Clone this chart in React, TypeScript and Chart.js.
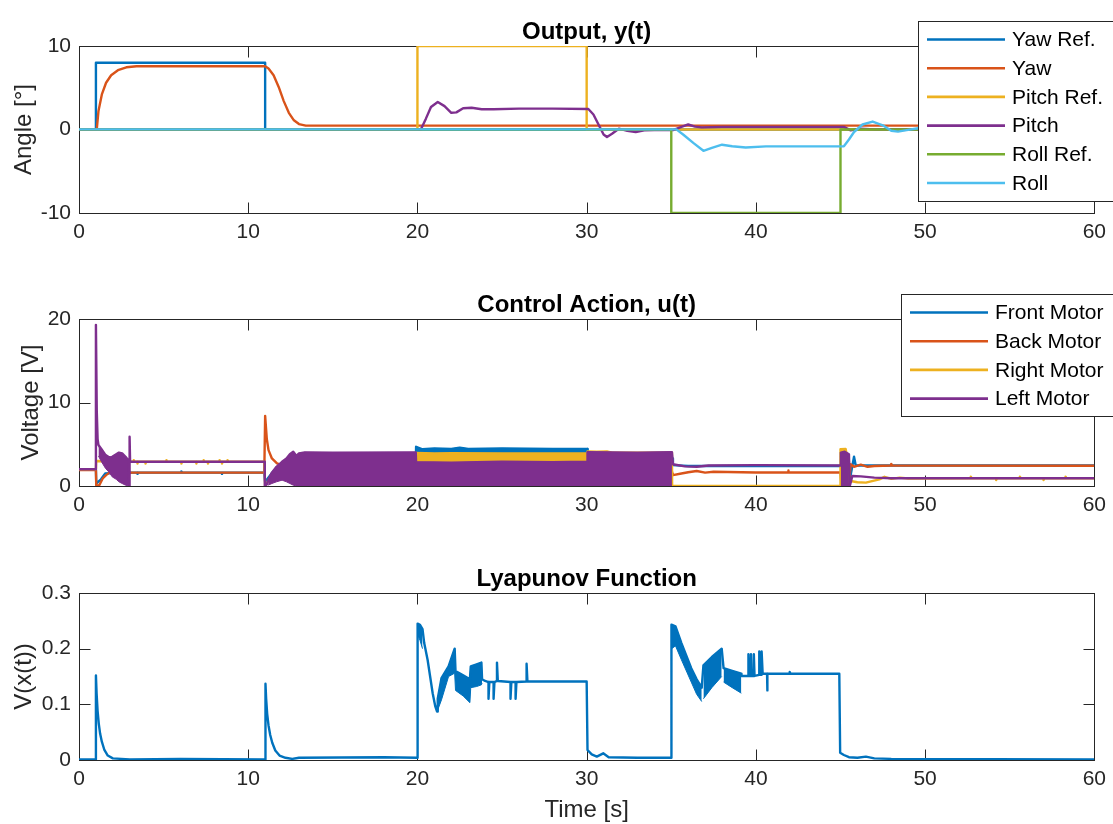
import React, { useEffect, useRef } from 'react';
import { Chart, registerables } from 'chart.js';

Chart.register(...registerables);

type Pt = [number, number];
type Band = [number, number, number]; // [t, low, high] envelope of a chattering signal

const FONT = '"Liberation Sans", Arial, Helvetica, sans-serif';
const AXIS_COLOR = '#262626';
const LINE_W = 2.4;

const BLUE = '#0072BD';
const ORANGE = '#D95319';
const YELLOW = '#EDB120';
const PURPLE = '#7E2F8E';
const GREEN = '#77AC30';
const CYAN = '#4DBEEE';

// ---------- Output, y(t) [deg] ----------
const outputLabels = ['Yaw Ref.', 'Yaw', 'Pitch Ref.', 'Pitch', 'Roll Ref.', 'Roll'];
const outputColors = [BLUE, ORANGE, YELLOW, PURPLE, GREEN, CYAN];

const yawRef: Pt[] = [[0, 0], [1, 0], [1, 8], [11, 8], [11, 0], [60, 0]];
const yaw: Pt[] = [
  [0, 0], [1.05, 0], [1.15, 2.2], [1.35, 4.2], [1.6, 5.6], [1.9, 6.5], [2.3, 7.1], [2.8, 7.45],
  [3.4, 7.57], [11, 7.57], [11.2, 7.3], [11.5, 6.5], [11.8, 5.1], [12.1, 3.4], [12.4, 2.0],
  [12.7, 1.1], [13.0, 0.65], [13.4, 0.47], [60, 0.47],
];
const pitchRef: Pt[] = [[0, 0], [20, 0], [20, 10], [30, 10], [30, 0], [60, 0]];
const pitch: Pt[] = [
  [0, 0], [20.2, 0], [20.5, 1.3], [20.8, 2.7], [21.2, 3.3], [21.6, 2.8], [22.0, 2.0], [22.3, 2.05],
  [22.7, 2.55], [23.2, 2.6], [23.8, 2.42], [24.5, 2.42], [26, 2.5], [28, 2.5], [30.1, 2.45],
  [30.4, 1.8], [30.7, 0.6], [31.0, -0.6], [31.2, -0.9], [31.5, -0.5], [31.9, 0.1], [32.4, -0.15],
  [32.9, -0.3], [33.4, -0.1], [34, -0.08], [35.1, -0.08], [35.6, 0.3], [36.0, 0.6], [36.4, 0.35],
  [36.8, 0.25], [38, 0.32], [45.2, 0.32], [45.6, -0.1], [46.2, 0.1], [47, 0.02], [60, 0.02],
];
const rollRef: Pt[] = [[0, 0], [35, 0], [35, -10], [45, -10], [45, 0], [60, 0]];
const roll: Pt[] = [
  [0, 0.02], [35.3, 0.02], [35.7, -0.6], [36.3, -1.6], [36.9, -2.55], [37.4, -2.2], [38.0, -1.82],
  [38.6, -2.0], [39.4, -2.15], [40.6, -2.02], [45.2, -2.0], [45.5, -1.2], [45.8, -0.3], [46.3, 0.6],
  [46.9, 0.95], [47.5, 0.5], [48.0, -0.15], [48.4, -0.25], [49.0, -0.05], [49.6, 0.15], [50.5, 0.05],
  [60, 0.02],
];

// ---------- Control Action, u(t) [V] ----------
const motorLabels = ['Front Motor', 'Back Motor', 'Right Motor', 'Left Motor'];
const motorColors = [BLUE, ORANGE, YELLOW, PURPLE];

const frontSeg1: Pt[] = [
  [0, 1.95], [1.0, 1.95], [1.02, 0.3], [1.3, 0.8], [1.55, 1.5], [2.0, 1.55], [3.05, 1.6],
  [3.44, 1.6], [3.44, 1.45], [3.48, 1.6], [6.05, 1.6], [6.05, 1.75], [6.09, 1.6], [8.45, 1.6],
  [8.45, 1.45], [8.49, 1.6], [10.95, 1.6], [11.0, 0.5], [11.5, 1.8], [13.4, 2.0], [19.9, 2.0],
];
const frontBand: Band[] = [
  [19.92, 0, 4.7], [20.3, 0, 4.4], [21, 0, 4.5], [22, 0, 4.45], [22.5, 0, 4.6], [23, 0, 4.45],
  [25, 0, 4.5], [28, 0, 4.45], [30.04, 0, 4.45],
];
const frontSeg2: Pt[] = [
  [30.06, 2.0], [35.0, 2.0], [35.05, 3.3], [35.1, 2.5], [36, 2.4], [45.0, 2.4], [45.5, 0.2],
  [45.8, 3.5], [45.9, 2.45], [60, 2.45],
];

const backMotor: Pt[] = [
  [0, 1.9], [1.0, 1.9], [1.02, 0], [1.2, 0.1], [1.4, 0.9], [1.6, 1.3], [1.8, 1.6], [2.2, 1.5],
  [2.6, 1.55], [3.0, 1.55], [3.05, 1.6], [10.95, 1.6], [11.0, 8.4], [11.1, 5.6], [11.2, 4.3],
  [11.4, 3.3], [11.7, 2.7], [12.0, 2.5], [12.5, 2.4], [13.0, 2.3], [13.4, 2.0], [35.0, 2.0],
  [35.1, 1.3], [35.6, 1.5], [36.0, 1.64], [36.5, 1.8], [37, 1.6], [37.5, 1.7], [40, 1.62],
  [41.9, 1.62], [41.9, 1.85], [41.95, 1.62], [45.0, 1.62], [45.05, 0.3], [45.5, 0.2], [45.6, 2.6],
  [45.8, 2.3], [46.2, 2.55], [46.6, 2.3], [47, 2.4], [48.0, 2.45], [48.0, 2.65], [48.05, 2.45],
  [60, 2.42],
];

const rightSeg1: Pt[] = [
  [0, 2.0], [1.0, 2.0], [1.02, 3.0], [3.05, 2.9], [3.24, 2.9], [3.24, 3.1], [3.28, 2.9],
  [3.44, 2.9], [3.44, 2.7], [3.48, 2.9], [3.93, 2.9], [3.93, 2.7], [3.97, 2.9], [5.15, 2.9],
  [5.15, 3.1], [5.19, 2.9], [6.05, 2.9], [6.05, 2.7], [6.09, 2.9], [6.92, 2.9], [6.92, 2.7],
  [6.96, 2.9], [7.37, 2.9], [7.37, 3.1], [7.41, 2.9], [7.62, 2.9], [7.62, 2.7], [7.66, 2.9],
  [8.29, 2.9], [8.29, 3.1], [8.33, 2.9], [8.45, 2.9], [8.45, 2.7], [8.49, 2.9], [8.78, 2.9],
  [8.78, 3.1], [8.82, 2.9], [10.95, 2.9], [11.0, 0], [11.5, 1.5], [13.4, 2.0], [19.9, 2.0],
];
const rightBand: Band[] = [
  [19.92, 0, 3.95], [21, 0, 3.9], [22, 0, 3.92], [25, 0, 3.9], [30.04, 0, 3.9],
];
const rightBand2: Band[] = [
  [30.05, 0, 4.15], [30.6, 0, 4.1], [31.2, 0, 4.15], [31.5, 0, 4.0], [33, 0, 4.0], [35.04, 0, 4.0],
];
const rightBand45: Band[] = [[45.0, 0, 4.4], [45.3, 0, 4.45], [45.45, 0, 3.0]];
const rightSeg2: Pt[] = [
  [35.05, 0], [45.0, 0],
];
const rightSeg3: Pt[] = [
  [45.5, 0.5], [45.6, 0.6], [46.0, 0.45], [46.5, 0.4], [46.8, 0.55], [47.3, 0.8], [47.6, 1.1],
  [48.0, 0.85], [48.5, 1.0], [49, 0.9], [52.7, 0.92], [52.7, 1.12], [52.75, 0.92], [54.2, 0.92],
  [54.2, 0.72], [54.25, 0.92], [55.6, 0.92], [55.6, 1.12], [55.65, 0.92], [57.0, 0.92],
  [57.0, 0.72], [57.05, 0.92], [58.3, 0.92], [58.3, 1.12], [58.35, 0.92], [60, 0.92],
];

const leftSeg1: Pt[] = [[0, 2.0], [1.0, 2.0], [1.0, 19.3], [1.05, 9.0], [1.1, 5.6]];
const leftBandA: Band[] = [
  [1.15, 3.6, 4.9], [1.3, 3.0, 4.5], [1.57, 2.1, 3.7], [1.8, 1.6, 3.4], [1.96, 1.1, 3.5],
  [2.2, 0.8, 3.8], [2.36, 0.5, 4.0], [2.55, 0.3, 3.9], [2.75, 0.1, 3.5], [2.95, 0, 3.0],
];
const leftSeg2: Pt[] = [[2.97, 0], [2.99, 5.9], [3.02, 2.9], [10.97, 2.9], [10.98, 0], [11.1, 0.2]];
const leftBandB: Band[] = [
  [11.18, 0.1, 0.7], [11.4, 0.3, 1.6], [11.67, 0.5, 2.3], [12.0, 0.7, 2.9], [12.26, 0.5, 3.3],
  [12.46, 0.3, 3.8], [12.66, 0.1, 4.1], [12.85, 0, 3.6], [13.0, 0, 3.9], [13.34, 0, 4.03],
  [15, 0, 4.0], [19.9, 0, 4.03], [19.92, 0, 2.85], [22, 0, 2.8], [25, 0, 2.9], [28, 0, 2.85],
  [30.03, 0, 2.9], [30.05, 0, 4.05], [33, 0, 4.0], [35.04, 0, 4.05],
];
const leftSeg3: Pt[] = [
  [35.1, 2.6], [35.8, 2.35], [36.5, 2.3], [37.2, 2.45], [40, 2.5], [45.0, 2.45],
];
const leftBand45: Band[] = [[45.02, 0, 4.0], [45.25, 0, 4.1], [45.5, 0, 3.8]];
const leftSeg4: Pt[] = [
  [45.55, 0], [45.7, 1.2], [46.2, 1.15], [47, 1.0], [48, 0.92], [60, 0.92],
];

// ---------- Lyapunov Function ----------
const lyaSeg1: Pt[] = [
  [0, 0.001], [0.99, 0.001], [1.0, 0.152], [1.04, 0.12], [1.1, 0.088], [1.17, 0.065], [1.25, 0.047],
  [1.35, 0.033], [1.5, 0.018], [1.7, 0.008], [2.0, 0.003], [3, 0.001], [6, 0.002], [11.0, 0.001],
  [11.02, 0.137], [11.06, 0.11], [11.12, 0.083], [11.2, 0.062], [11.3, 0.045], [11.42, 0.031],
  [11.6, 0.017], [11.85, 0.008], [12.2, 0.004], [12.6, 0.002], [13.0, 0.004], [18, 0.005],
  [20.0, 0.004], [20.0, 0.245],
];
const lyaBand1: Band[] = [[20.02, 0.225, 0.245], [20.15, 0.215, 0.243], [20.3, 0.2, 0.235]];
const lyaSeg2: Pt[] = [[20.4, 0.21], [20.6, 0.18], [20.75, 0.15], [20.9, 0.12], [21.05, 0.097], [21.16, 0.087]];
const lyaBand2: Band[] = [
  [21.2, 0.09, 0.11], [21.42, 0.108, 0.147], [21.84, 0.15, 0.168], [22.2, 0.156, 0.2],
  [22.25, 0.125, 0.16], [22.7, 0.115, 0.152], [23.1, 0.103, 0.145], [23.15, 0.13, 0.168],
  [23.5, 0.132, 0.172], [23.78, 0.135, 0.175], [23.82, 0.138, 0.145],
];
const lyaSeg3: Pt[] = [
  [24.0, 0.142], [24.2, 0.14], [24.2, 0.11], [24.25, 0.14], [24.5, 0.14], [24.5, 0.11],
  [24.55, 0.14], [24.7, 0.142], [24.7, 0.175], [24.75, 0.142], [25.5, 0.14], [25.5, 0.11],
  [25.55, 0.14], [25.8, 0.14], [25.8, 0.11], [25.85, 0.14], [26.45, 0.141], [26.45, 0.173],
  [26.5, 0.141], [30.0, 0.141], [30.05, 0.018], [30.3, 0.01], [30.6, 0.006], [30.98, 0.012],
  [31.3, 0.005], [33, 0.004], [35.0, 0.004], [35.0, 0.243],
];
const lyaBand3: Band[] = [
  [35.02, 0.2, 0.243], [35.25, 0.205, 0.24], [35.6, 0.18, 0.21], [36.18, 0.14, 0.165],
  [36.5, 0.118, 0.145], [36.8, 0.105, 0.13],
];
const lyaBand4: Band[] = [[36.9, 0.11, 0.17], [37.4, 0.13, 0.185], [37.98, 0.15, 0.2]];
const lyaBand5: Band[] = [[38.09, 0.14, 0.165], [38.6, 0.13, 0.16], [39.14, 0.12, 0.155]];
const lyaSeg4: Pt[] = [
  [39.15, 0.151], [39.56, 0.151], [39.56, 0.19], [39.6, 0.151], [39.71, 0.151], [39.71, 0.19],
  [39.75, 0.151], [39.88, 0.151], [39.88, 0.19], [39.92, 0.151], [40.2, 0.153], [40.2, 0.195],
  [40.25, 0.153], [40.34, 0.153], [40.34, 0.195], [40.4, 0.155], [40.66, 0.155], [40.66, 0.125],
  [40.7, 0.155], [42.0, 0.155], [42.0, 0.158], [42.05, 0.155], [44.93, 0.155], [44.98, 0.013],
  [45.2, 0.009], [45.5, 0.005], [46, 0.004], [46.5, 0.006], [47, 0.003], [48, 0.002], [60, 0.001],
];

// ---------- helpers ----------
const hiOf = (b: Band[]): Pt[] => b.map(([t, , h]) => [t, h] as Pt);
const loOf = (b: Band[]): Pt[] => b.map(([t, l]) => [t, l] as Pt);
const toXY = (pts: Pt[]) => pts.map(([x, y]) => ({ x, y }));

function lineDs(label: string, pts: Pt[], color: string, order: number) {
  return {
    label,
    data: toXY(pts),
    borderColor: color,
    backgroundColor: color,
    borderWidth: LINE_W,
    pointRadius: 0,
    fill: false,
    order,
  };
}

// A chattering region is drawn as a filled envelope: upper edge filled down to the lower edge.
function bandDs(label: string, band: Band[], color: string, order: number) {
  return [
    { label, data: toXY(hiOf(band)), borderColor: color, backgroundColor: color, borderWidth: 1, pointRadius: 0, fill: '+1', order },
    { label, data: toXY(loOf(band)), borderColor: color, backgroundColor: color, borderWidth: 1, pointRadius: 0, fill: false, order },
  ];
}

interface LegendCfg { x: number; y: number; h: number; items: { label: string; color: string }[] }
interface FrameCfg { title: string; ylabel: string; ylabelX: number; xlabel?: string; legend?: LegendCfg }

const TICK_LEN = 11;

// Axes box with inward ticks sits under the data; titles, labels and legend go on top.
const matlabFrame = {
  id: 'matlabFrame',
  beforeDatasetsDraw(chart: any) {
    const { ctx, chartArea: a, scales } = chart;
    ctx.save();
    ctx.strokeStyle = AXIS_COLOR;
    ctx.lineWidth = 1;
    const L = Math.round(a.left) + 0.5;
    const R = Math.round(a.right) + 0.5;
    const T = Math.round(a.top) + 0.5;
    const B = Math.round(a.bottom) + 0.5;
    ctx.strokeRect(L, T, R - L, B - T);
    ctx.beginPath();
    scales.x.ticks.forEach((tk: any) => {
      const px = Math.round(scales.x.getPixelForValue(tk.value)) + 0.5;
      ctx.moveTo(px, B); ctx.lineTo(px, B - TICK_LEN);
      ctx.moveTo(px, T); ctx.lineTo(px, T + TICK_LEN);
    });
    scales.y.ticks.forEach((tk: any) => {
      const py = Math.round(scales.y.getPixelForValue(tk.value)) + 0.5;
      ctx.moveTo(L, py); ctx.lineTo(L + TICK_LEN, py);
      ctx.moveTo(R, py); ctx.lineTo(R - TICK_LEN, py);
    });
    ctx.stroke();
    ctx.restore();
  },
  afterDatasetsDraw(chart: any, _args: any, opts: FrameCfg) {
    const { ctx, chartArea: a } = chart;
    ctx.save();

    // title
    const cx = (a.left + a.right) / 2;
    ctx.fillStyle = '#000';
    ctx.font = `bold 24px ${FONT}`;
    ctx.textAlign = 'center';
    ctx.textBaseline = 'middle';
    ctx.fillText(opts.title, cx, a.top - 14);

    // axis labels
    ctx.fillStyle = AXIS_COLOR;
    ctx.font = `24px ${FONT}`;
    ctx.save();
    ctx.translate(opts.ylabelX, (a.top + a.bottom) / 2);
    ctx.rotate(-Math.PI / 2);
    ctx.fillText(opts.ylabel, 0, 0);
    ctx.restore();
    if (opts.xlabel) ctx.fillText(opts.xlabel, cx, a.bottom + 50);

    // legend
    const lg = opts.legend;
    if (lg) {
      ctx.fillStyle = '#fff';
      ctx.fillRect(lg.x, lg.y, 260, lg.h);
      ctx.strokeStyle = AXIS_COLOR;
      ctx.lineWidth = 1;
      ctx.strokeRect(lg.x + 0.5, lg.y + 0.5, 260, lg.h);
      ctx.font = `21px ${FONT}`;
      ctx.textAlign = 'left';
      ctx.textBaseline = 'middle';
      lg.items.forEach((it, i) => {
        const ry = lg.y + 18.5 + i * 28.7;
        ctx.strokeStyle = it.color;
        ctx.lineWidth = 2.6;
        ctx.beginPath();
        ctx.moveTo(lg.x + 9, ry);
        ctx.lineTo(lg.x + 87, ry);
        ctx.stroke();
        ctx.fillStyle = '#000';
        ctx.fillText(it.label, lg.x + 94, ry + 1);
      });
    }
    ctx.restore();
  },
};

function makeConfig(datasets: any[], yMin: number, yMax: number, yStep: number, xAxisHeight: number, frame: FrameCfg) {
  const tickFont = { family: FONT, size: 21 };
  return {
    type: 'line' as const,
    data: { datasets },
    plugins: [matlabFrame],
    options: {
      animation: false as const,
      responsive: false,
      devicePixelRatio: 1,
      events: [],
      layout: { padding: { left: 0, right: 17, top: 46, bottom: 0 } },
      elements: { point: { radius: 0 }, line: { tension: 0, borderJoinStyle: 'round' as const } },
      scales: {
        x: {
          type: 'linear' as const,
          min: 0,
          max: 60,
          border: { display: false },
          grid: { display: false, drawTicks: false },
          ticks: { stepSize: 10, padding: 7, color: AXIS_COLOR, font: tickFont, maxRotation: 0, autoSkip: false },
          afterFit: (s: any) => { s.height = xAxisHeight; },
        },
        y: {
          type: 'linear' as const,
          min: yMin,
          max: yMax,
          border: { display: false },
          grid: { display: false, drawTicks: false },
          ticks: { stepSize: yStep, padding: 8, color: AXIS_COLOR, font: tickFont },
          afterFit: (s: any) => { s.width = 79; },
        },
      },
      plugins: {
        legend: { display: false },
        tooltip: { enabled: false },
        title: { display: false },
        matlabFrame: frame,
      },
    },
  };
}

export default function App() {
  const r1 = useRef<HTMLCanvasElement>(null);
  const r2 = useRef<HTMLCanvasElement>(null);
  const r3 = useRef<HTMLCanvasElement>(null);

  useEffect(() => {
    const outSeries = [yawRef, yaw, pitchRef, pitch, rollRef, roll];
    const outDs = outSeries.map((s, i) => lineDs(outputLabels[i], s, outputColors[i], 10 - i));

    const frontTrace = [...frontSeg1, ...hiOf(frontBand), ...frontSeg2];
    const rightTrace = [...rightSeg1, ...hiOf(rightBand), ...hiOf(rightBand2), ...rightSeg2, ...hiOf(rightBand45), ...rightSeg3];
    const leftTrace = [
      ...leftSeg1, ...hiOf(leftBandA), ...leftSeg2, ...hiOf(leftBandB), ...leftSeg3, ...hiOf(leftBand45), ...leftSeg4,
    ];
    const motorDs = [
      lineDs(motorLabels[0], frontTrace, motorColors[0], 40),
      ...bandDs(motorLabels[0], frontBand, motorColors[0], 40),
      lineDs(motorLabels[1], backMotor, motorColors[1], 30),
      lineDs(motorLabels[2], rightTrace, motorColors[2], 20),
      ...bandDs(motorLabels[2], rightBand, motorColors[2], 20),
      ...bandDs(motorLabels[2], rightBand2, motorColors[2], 20),
      ...bandDs(motorLabels[2], rightBand45, motorColors[2], 20),
      lineDs(motorLabels[3], leftTrace, motorColors[3], 10),
      ...bandDs(motorLabels[3], leftBandA, motorColors[3], 10),
      ...bandDs(motorLabels[3], leftBandB, motorColors[3], 10),
      ...bandDs(motorLabels[3], leftBand45, motorColors[3], 10),
    ];

    const lyaTrace = [
      ...lyaSeg1, ...hiOf(lyaBand1), ...lyaSeg2, ...hiOf(lyaBand2), ...lyaSeg3,
      ...hiOf(lyaBand3), ...hiOf(lyaBand4), ...hiOf(lyaBand5), ...lyaSeg4,
    ];
    const lyaDs = [
      lineDs('V', lyaTrace, BLUE, 1),
      ...[lyaBand1, lyaBand2, lyaBand3, lyaBand4, lyaBand5].flatMap((b) => bandDs('V', b, BLUE, 1)),
    ];

    const charts = [
      new Chart(r1.current as HTMLCanvasElement, makeConfig(outDs, -10, 10, 10, 61, {
        title: 'Output, y(t)',
        ylabel: 'Angle [°]',
        ylabelX: 24,
        legend: { x: 918, y: 21, h: 180, items: outputLabels.map((label, i) => ({ label, color: outputColors[i] })) },
      }) as any),
      new Chart(r2.current as HTMLCanvasElement, makeConfig(motorDs, 0, 20, 10, 61, {
        title: 'Control Action, u(t)',
        ylabel: 'Voltage [V]',
        ylabelX: 31,
        legend: { x: 901, y: 21, h: 122, items: motorLabels.map((label, i) => ({ label, color: motorColors[i] })) },
      }) as any),
      new Chart(r3.current as HTMLCanvasElement, makeConfig(lyaDs, 0, 0.3, 0.1, 64, {
        title: 'Lyapunov Function',
        ylabel: 'V(x(t))',
        ylabelX: 24,
        xlabel: 'Time [s]',
      }) as any),
    ];
    return () => charts.forEach((c) => c.destroy());
  }, []);

  const cv = (top: number, h: number) => ({ position: 'absolute' as const, left: 0, top, width: 1113, height: h });
  return (
    <div style={{ position: 'absolute', left: 0, top: 0, width: 1113, height: 824, background: '#fff', overflow: 'hidden' }}>
      <canvas ref={r1} width={1113} height={274} style={cv(0, 274)} />
      <canvas ref={r2} width={1113} height={274} style={cv(273, 274)} />
      <canvas ref={r3} width={1113} height={277} style={cv(547, 277)} />
    </div>
  );
}
